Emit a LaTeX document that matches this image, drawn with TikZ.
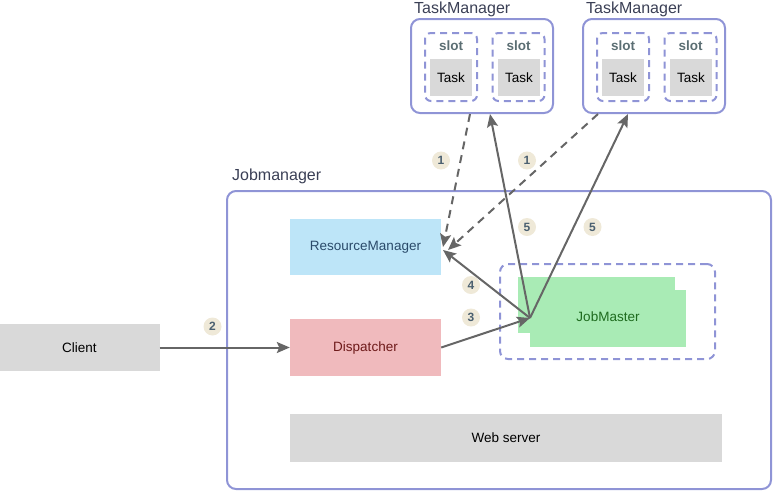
\documentclass[tikz,border=0pt]{standalone}
\usepackage{fontspec}
\setmainfont{Liberation Sans}
\usetikzlibrary{arrows.meta}
\definecolor{bord}{HTML}{8F94D6}
\definecolor{rmfill}{HTML}{BDE5F8}
\definecolor{rmtext}{HTML}{2A4A6A}
\definecolor{dpfill}{HTML}{F0BABD}
\definecolor{dptext}{HTML}{6E1A1A}
\definecolor{jmfill}{HTML}{A9EBB5}
\definecolor{jmtext}{HTML}{1E6B1E}
\definecolor{greyfill}{HTML}{D9D9D9}
\definecolor{numfill}{HTML}{EFE9D8}
\definecolor{numtext}{HTML}{4B6070}
\definecolor{slottext}{HTML}{5B6E73}
\definecolor{arr}{HTML}{666666}
\definecolor{lbltext}{HTML}{3A3F55}
\tikzset{
  x=1pt,y=-1pt,
  box/.style={draw=none,inner sep=0pt,font=\fontsize{13.5}{15}\selectfont,text=black},
  tmbox/.style={draw=bord,line width=2pt,rounded corners=9pt,minimum width=142pt,minimum height=94pt,inner sep=0pt},
  slotbox/.style={draw=bord,line width=2pt,dash pattern=on 7pt off 5pt,rounded corners=6pt,minimum width=52pt,minimum height=68pt,inner sep=0pt},
  taskbox/.style={fill=greyfill,minimum width=42pt,minimum height=37pt,inner sep=0pt,font=\fontsize{13.5}{15}\selectfont},
  slotlbl/.style={font=\bfseries\fontsize{13.5}{15}\selectfont,text=slottext,inner sep=0pt},
  biglbl/.style={font=\fontsize{16}{18}\selectfont,text=lbltext,inner sep=0pt,anchor=west},
  num/.style={circle,fill=numfill,minimum size=18pt,inner sep=0pt,font=\bfseries\fontsize{12}{14}\selectfont,text=numtext},
  conn/.style={draw=arr,line width=2pt,-{Stealth[length=13pt,width=11pt,inset=2.5pt]}},
  dconn/.style={conn,dash pattern=on 8pt off 6pt},
}
\begin{document}
\begin{tikzpicture}
\useasboundingbox (0,0) rectangle (773,491);
% Jobmanager
\node[draw=bord,line width=2pt,rounded corners=9pt,minimum width=544pt,minimum height=298pt,inner sep=0pt] (jmgr) at (499,340) {};
\node[biglbl] (jmgrlbl) at (232,176) {Jobmanager};
% TaskManagers
\foreach \i/\cx in {1/482,2/654}{
  \node[tmbox] (tm\i) at (\cx,66) {};
  \node[biglbl] (tmlbl\i) at (\cx-68,9) {TaskManager};
  \node[slotbox] (slot\i a) at (\cx-31,67) {};
  \node[slotbox] (slot\i b) at (\cx+36.5,67) {};
  \node[slotlbl] (slotlbl\i a) at (\cx-31,46) {slot};
  \node[slotlbl] (slotlbl\i b) at (\cx+36.5,46) {slot};
  \node[taskbox] (task\i a) at (\cx-31,77.5) {Task};
  \node[taskbox] (task\i b) at (\cx+37,77.5) {Task};
}
% inner boxes
\node[box,fill=rmfill,text=rmtext,minimum width=151pt,minimum height=56pt] (rm) at (365.5,247) {ResourceManager};
\node[box,fill=dpfill,text=dptext,minimum width=151pt,minimum height=57pt] (dp) at (365.5,347.5) {Dispatcher};
\node[box,fill=greyfill,minimum width=432pt,minimum height=48pt] (web) at (506,438) {Web server};
\node[box,fill=greyfill,minimum width=160pt,minimum height=47pt] (client) at (79.5,347.5) {Client};
% JobMaster
\node[draw=bord,line width=2pt,dash pattern=on 7pt off 5pt,rounded corners=8pt,minimum width=215pt,minimum height=95pt,inner sep=0pt] (jmouter) at (607.5,311.5) {};
\node[fill=jmfill,minimum width=156pt,minimum height=57pt,inner sep=0pt] (jmback) at (608,318.5) {};
\node[box,fill=jmfill,text=jmtext,minimum width=157pt,minimum height=56pt] (jmfront) at (596.5,305) {};
\node[box,text=jmtext] (jmtxt) at (608,317) {JobMaster};
\coordinate (jp) at (530,318);
% connectors
\coordinate (rmin1) at (443,247);
\coordinate (rmin2) at (448,250);
\coordinate (rmin3) at (443,250);
\draw[dconn] (tm1.south -| 470,0) -- (rmin1);
\draw[dconn] (tm2.south -| 598,0) -- (rmin2);
\draw[conn] (jp) -- (tm1.south -| 490,0);
\draw[conn] (jp) -- (tm2.south -| 628,0);
\draw[conn] (jp) -- (rmin3);
\draw[conn] (dp.east) -- (jp);
\draw[conn] (client.east) -- (dp.west);
% numbers
\node[num] (n1a) at (441,160.5) {1};
\node[num] (n1b) at (527,160.5) {1};
\node[num] (n5a) at (527,227) {5};
\node[num] (n5b) at (592.5,227) {5};
\node[num] (n4) at (471,285) {4};
\node[num] (n3) at (471,317.5) {3};
\node[num] (n2) at (212.5,326.5) {2};
\end{tikzpicture}
\end{document}
